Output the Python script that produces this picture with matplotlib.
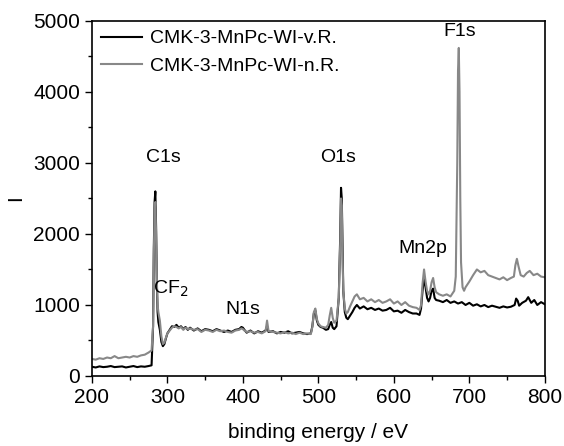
import matplotlib
matplotlib.use("Agg")
import matplotlib.pyplot as plt
from matplotlib.ticker import MultipleLocator

plt.rcParams['font.family'] = ['Liberation Sans', 'DejaVu Sans']

# black curve: CMK-3-MnPc-WI-v.R.
energy_v = [200, 205, 210, 215, 220, 225, 230, 235, 240, 245, 250, 255, 260, 265, 270, 275,
            279, 281, 282, 283, 284, 285, 286, 287, 288, 290, 292, 294, 296, 298, 300, 303,
            306, 309, 312, 315, 318, 321, 324, 327, 330, 335, 340, 345, 350, 355, 360, 365,
            370, 375, 380, 385, 390, 395, 398, 400, 402, 405, 410, 415, 420, 425, 430, 432,
            434, 440, 445, 450, 455, 460, 465, 470, 475, 480, 485, 490, 492, 494, 496, 498,
            500, 503, 506, 510, 513, 515, 517, 519, 521, 524, 527, 529, 530, 531, 532, 533,
            535, 537, 539, 542, 545, 548, 551, 555, 560, 565, 570, 575, 580, 585, 590, 595,
            600, 605, 610, 615, 620, 625, 630, 634, 636, 638, 640, 642, 644, 646, 648, 650,
            652, 654, 656, 660, 665, 670, 675, 680, 685, 690, 695, 700, 705, 710, 715, 720,
            725, 730, 735, 740, 745, 750, 755, 760, 762, 764, 766, 770, 775, 778, 782, 786,
            790, 795, 800]
counts_v = [130, 120, 135, 125, 130, 140, 125, 130, 135, 120, 130, 140, 125, 135, 130, 140,
            150, 700, 1800, 2450, 2600, 2100, 1300, 900, 760, 650, 480, 420, 450, 530, 600, 650,
            700, 690, 720, 680, 700, 660, 690, 650, 680, 640, 670, 630, 660, 650, 630, 660,
            640, 620, 640, 620, 650, 660, 690, 680, 650, 610, 640, 600, 630, 610, 640, 700,
            620, 630, 600, 620, 610, 630, 600, 610, 620, 600, 590, 600, 700, 880, 920, 780,
            720, 690, 680, 650, 660, 720, 760, 680, 660, 700, 1100, 2000, 2650, 2500, 1800, 1200,
            900, 820, 800, 850, 900, 960, 1000, 950, 980, 940, 960, 930, 950, 920, 930, 960,
            910, 920, 890, 930, 900, 880, 880, 860, 950, 1200, 1380, 1250, 1100, 1050, 1100, 1200,
            1230, 1100, 1070, 1060, 1040, 1070, 1030, 1050, 1020, 1040, 1000, 1030, 990, 1010, 980, 1000,
            970, 990, 975, 960, 980, 965, 975, 1000, 1090, 1060, 990, 1030, 1060, 1110, 1030, 1070,
            1000, 1040, 1010]

# grey curve: CMK-3-MnPc-WI-n.R.
energy_n = [200, 205, 210, 215, 220, 225, 230, 235, 240, 245, 250, 255, 260, 265, 270, 275,
            279, 281, 282, 283, 284, 285, 286, 287, 288, 290, 292, 294, 296, 298, 300, 303,
            306, 309, 312, 315, 318, 321, 324, 327, 330, 335, 340, 345, 350, 355, 360, 365,
            370, 375, 380, 385, 390, 395, 398, 400, 402, 405, 410, 415, 420, 425, 430, 432,
            434, 440, 445, 450, 455, 460, 465, 470, 475, 480, 485, 490, 492, 494, 496, 498,
            500, 503, 506, 510, 513, 515, 517, 519, 521, 524, 527, 529, 530, 531, 532, 533,
            535, 537, 539, 542, 545, 548, 551, 555, 560, 565, 570, 575, 580, 585, 590, 595,
            600, 605, 610, 615, 620, 625, 630, 634, 636, 638, 640, 642, 644, 646, 648, 650,
            652, 654, 656, 660, 665, 670, 675, 680, 682, 684, 685, 686, 687, 688, 689, 691,
            693, 695, 700, 705, 710, 715, 720, 725, 730, 735, 740, 745, 750, 755, 759, 761,
            763, 765, 768, 772, 776, 780, 785, 790, 795, 800]
counts_n = [240, 230, 250, 240, 260, 250, 280, 250, 260, 270, 260, 280, 270, 290, 300, 330,
            360, 700, 1700, 2300, 2450, 2000, 1350, 1000, 900, 780, 560, 450, 470, 540, 600, 640,
            680, 700, 690, 670, 690, 650, 680, 660, 670, 650, 660, 620, 650, 640, 620, 650,
            630, 640, 620, 610, 640, 650, 670, 660, 640, 620, 630, 610, 620, 600, 630, 780,
            630, 620, 610, 600, 620, 600, 610, 590, 610, 590, 600, 590, 690, 900, 950, 800,
            740, 700, 690, 680, 720, 850, 960, 820, 750, 780, 1100, 1900, 2500, 2400, 1700, 1200,
            950, 880, 900, 980, 1050, 1120, 1150, 1080, 1100, 1050, 1080, 1040, 1070, 1030, 1050, 1080,
            1020, 1050, 1000, 1040, 990, 970, 960, 930, 1000, 1300, 1500, 1330, 1200, 1150, 1200, 1320,
            1380, 1250, 1180, 1150, 1130, 1150, 1120, 1200, 1400, 3000, 4300, 4620, 4000, 2500, 1600, 1250,
            1200, 1250, 1330, 1420, 1500, 1460, 1480, 1420, 1400, 1380, 1360, 1390, 1350, 1380, 1400, 1560,
            1650, 1550, 1420, 1400, 1450, 1480, 1420, 1440, 1400, 1390]

labels = ["C1s", "O1s", "F1s", "N1s", "Mn2p", "CF$_2$"]
label_x = [294, 526, 687, 400, 638, 304]
label_y = [3070, 3070, 4850, 930, 1800, 1225]

fig = plt.figure(figsize=(5.64, 4.46), dpi=100)
ax = fig.add_axes([0.163, 0.157, 0.803, 0.796])

ax.plot(energy_v, counts_v, color='black', lw=1.5, label='CMK-3-MnPc-WI-v.R.')
ax.plot(energy_n, counts_n, color='#888888', lw=1.5, label='CMK-3-MnPc-WI-n.R.')

for t, x, y in zip(labels, label_x, label_y):
    ax.text(x, y, t, fontsize=14, ha='center', va='center')

ax.set_xlim(200, 800)
ax.set_ylim(0, 5000)
ax.xaxis.set_major_locator(MultipleLocator(100))
ax.xaxis.set_minor_locator(MultipleLocator(50))
ax.yaxis.set_major_locator(MultipleLocator(1000))
ax.yaxis.set_minor_locator(MultipleLocator(500))
ax.tick_params(which='major', direction='out', length=5, width=1, labelsize=15)
ax.tick_params(which='minor', direction='out', length=3, width=1)
for s in ax.spines.values():
    s.set_linewidth(1.2)

ax.set_xlabel('binding energy / eV', fontsize=15, labelpad=12)
ax.set_ylabel('I', fontsize=15, labelpad=6)

ax.legend(loc='upper left', frameon=False, fontsize=14, handlelength=2.1,
          borderaxespad=0.1, borderpad=0.35, labelspacing=0.5, handletextpad=0.45)

fig.savefig('out.png', dpi=100)
